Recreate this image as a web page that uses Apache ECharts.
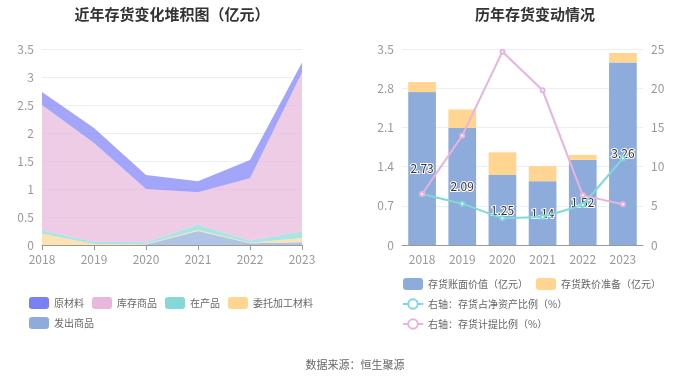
<!DOCTYPE html>
<html>
<head>
<meta charset="utf-8">
<script src="https://cdn.jsdelivr.net/npm/echarts@6/dist/echarts.min.js"></script>
<style>
  html, body { margin: 0; padding: 0; background: #fff; }
  #main { width: 700px; height: 377px; }
</style>
</head>
<body>
<div id="main"></div>
<script>
// 年份
var years = ['2018', '2019', '2020', '2021', '2022', '2023'];

// 左图：存货构成（亿元），自下而上堆叠
var faChu = [0, 0, 0.01, 0.25, 0.03, 0.05];          // 发出商品
var weiTuo = [0.2, 0.02, 0.01, 0.02, 0.01, 0.075];   // 委托加工材料
var zaiChan = [0.06, 0.04, 0.03, 0.09, 0.04, 0.12];  // 在产品
var kuCun = [2.24, 1.76, 0.95, 0.58, 1.11, 2.835];   // 库存商品
var yuanCai = [0.23, 0.27, 0.25, 0.20, 0.33, 0.18];  // 原材料

// 右图
var bookValue = [2.73, 2.09, 1.25, 1.14, 1.52, 3.26];      // 存货账面价值（亿元）
var impairment = [0.18, 0.33, 0.405, 0.27, 0.09, 0.17];    // 存货跌价准备（亿元）
var netAssetRatio = [6.5, 5.27, 3.4, 3.57, 5.1, 11.05];    // 存货占净资产比例（%）
var provisionRatio = [6.5, 13.95, 24.66, 19.73, 6.33, 5.19]; // 存货计提比例（%）

var leftTicks = [0, 0.5, 1, 1.5, 2, 2.5, 3, 3.5];

var chart = echarts.init(document.getElementById('main'));

var axisLabelStyle = { color: '#999', fontSize: 12 };
var splitStyle = { lineStyle: { color: '#e9eef7' } };
var legendText = { color: '#666', fontSize: 10, lineHeight: 12 };

function areaSeries(name, data, color) {
  return {
    name: name,
    type: 'line',
    stack: 'inv',
    xAxisIndex: 0,
    yAxisIndex: 0,
    data: data,
    symbol: 'none',
    lineStyle: { width: 0 },
    itemStyle: { color: color },
    areaStyle: { color: color, opacity: 0.7 }
  };
}

var option = {
  backgroundColor: '#fff',
  animation: false,
  textStyle: { fontFamily: 'Noto Sans CJK SC, sans-serif' },
  title: [
    {
      text: '近年存货变化堆积图（亿元）',
      left: 167, top: 2, textAlign: 'center',
      textStyle: { fontSize: 15, fontWeight: 'bold', color: '#333' }
    },
    {
      text: '历年存货变动情况',
      left: 530, top: 2, textAlign: 'center',
      textStyle: { fontSize: 15, fontWeight: 'bold', color: '#333' }
    },
    {
      text: '数据来源：恒生聚源',
      left: 350, top: 354, textAlign: 'center',
      textStyle: { fontSize: 11, fontWeight: 'normal', color: '#666' }
    }
  ],
  legend: [
    {
      data: [
        { name: '原材料', icon: 'roundRect' },
        { name: '库存商品', icon: 'roundRect' },
        { name: '在产品', icon: 'roundRect' },
        { name: '委托加工材料', icon: 'roundRect' },
        { name: '发出商品', icon: 'roundRect' }
      ],
      left: 24, top: 292, width: 300, padding: 5,
      itemWidth: 20, itemHeight: 12, itemGap: 8,
      textStyle: legendText
    },
    {
      data: [
        { name: '存货账面价值（亿元）', icon: 'roundRect' },
        { name: '存货跌价准备（亿元）', icon: 'roundRect' },
        '右轴：存货占净资产比例（%）',
        '右轴：存货计提比例（%）'
      ],
      left: 397, top: 273, width: 290, padding: 5,
      itemWidth: 20, itemHeight: 12, itemGap: 8,
      textStyle: legendText
    }
  ],
  grid: [
    { left: 42, right: 398, top: 49, bottom: 132 },
    { left: 402, right: 57, top: 49, bottom: 132 }
  ],
  xAxis: [
    {
      gridIndex: 0, type: 'category', data: years, boundaryGap: false,
      axisLine: { lineStyle: { color: '#999' } },
      axisTick: { lineStyle: { color: '#999' } },
      axisLabel: axisLabelStyle
    },
    {
      gridIndex: 1, type: 'category', data: years,
      axisLine: { lineStyle: { color: '#999' } },
      axisTick: { alignWithLabel: true, lineStyle: { color: '#999' } },
      axisLabel: axisLabelStyle
    }
  ],
  yAxis: [
    {
      gridIndex: 0, type: 'value', min: leftTicks[0], max: leftTicks[leftTicks.length - 1], interval: 0.5,
      axisLabel: axisLabelStyle, splitLine: splitStyle
    },
    {
      gridIndex: 1, type: 'value', min: 0, max: 3.5, interval: 0.7,
      axisLabel: axisLabelStyle, splitLine: splitStyle
    },
    {
      gridIndex: 1, type: 'value', min: 0, max: 25, interval: 5, position: 'right',
      axisLabel: axisLabelStyle, splitLine: { show: false }
    }
  ],
  series: [
    areaSeries('发出商品', faChu, '#8eacdb'),
    areaSeries('委托加工材料', weiTuo, '#ffd591'),
    areaSeries('在产品', zaiChan, '#86d8d8'),
    areaSeries('库存商品', kuCun, '#e8b7dc'),
    areaSeries('原材料', yuanCai, '#7b7ff6'),
    {
      name: '存货账面价值（亿元）',
      type: 'bar', stack: 'bar', xAxisIndex: 1, yAxisIndex: 1,
      data: bookValue, barWidth: '69%',
      itemStyle: { color: '#8eacdb' },
      label: {
        show: true, position: 'inside', color: '#333', fontSize: 12,
        textBorderColor: '#fff', textBorderWidth: 2
      },
      z: 2
    },
    {
      name: '存货跌价准备（亿元）',
      type: 'bar', stack: 'bar', xAxisIndex: 1, yAxisIndex: 1,
      data: impairment, barWidth: '69%',
      itemStyle: { color: '#ffd591' },
      z: 2
    },
    {
      name: '右轴：存货占净资产比例（%）',
      type: 'line', xAxisIndex: 1, yAxisIndex: 2,
      data: netAssetRatio,
      symbol: 'emptyCircle', symbolSize: 4,
      itemStyle: { color: '#7ed9d9' },
      lineStyle: { color: '#7ed9d9', width: 2 },
      z: 3
    },
    {
      name: '右轴：存货计提比例（%）',
      type: 'line', xAxisIndex: 1, yAxisIndex: 2,
      data: provisionRatio,
      symbol: 'emptyCircle', symbolSize: 4,
      itemStyle: { color: '#e8b3dc' },
      lineStyle: { color: '#e8b3dc', width: 2 },
      z: 3
    }
  ]
};

chart.setOption(option);
</script>
</body>
</html>
